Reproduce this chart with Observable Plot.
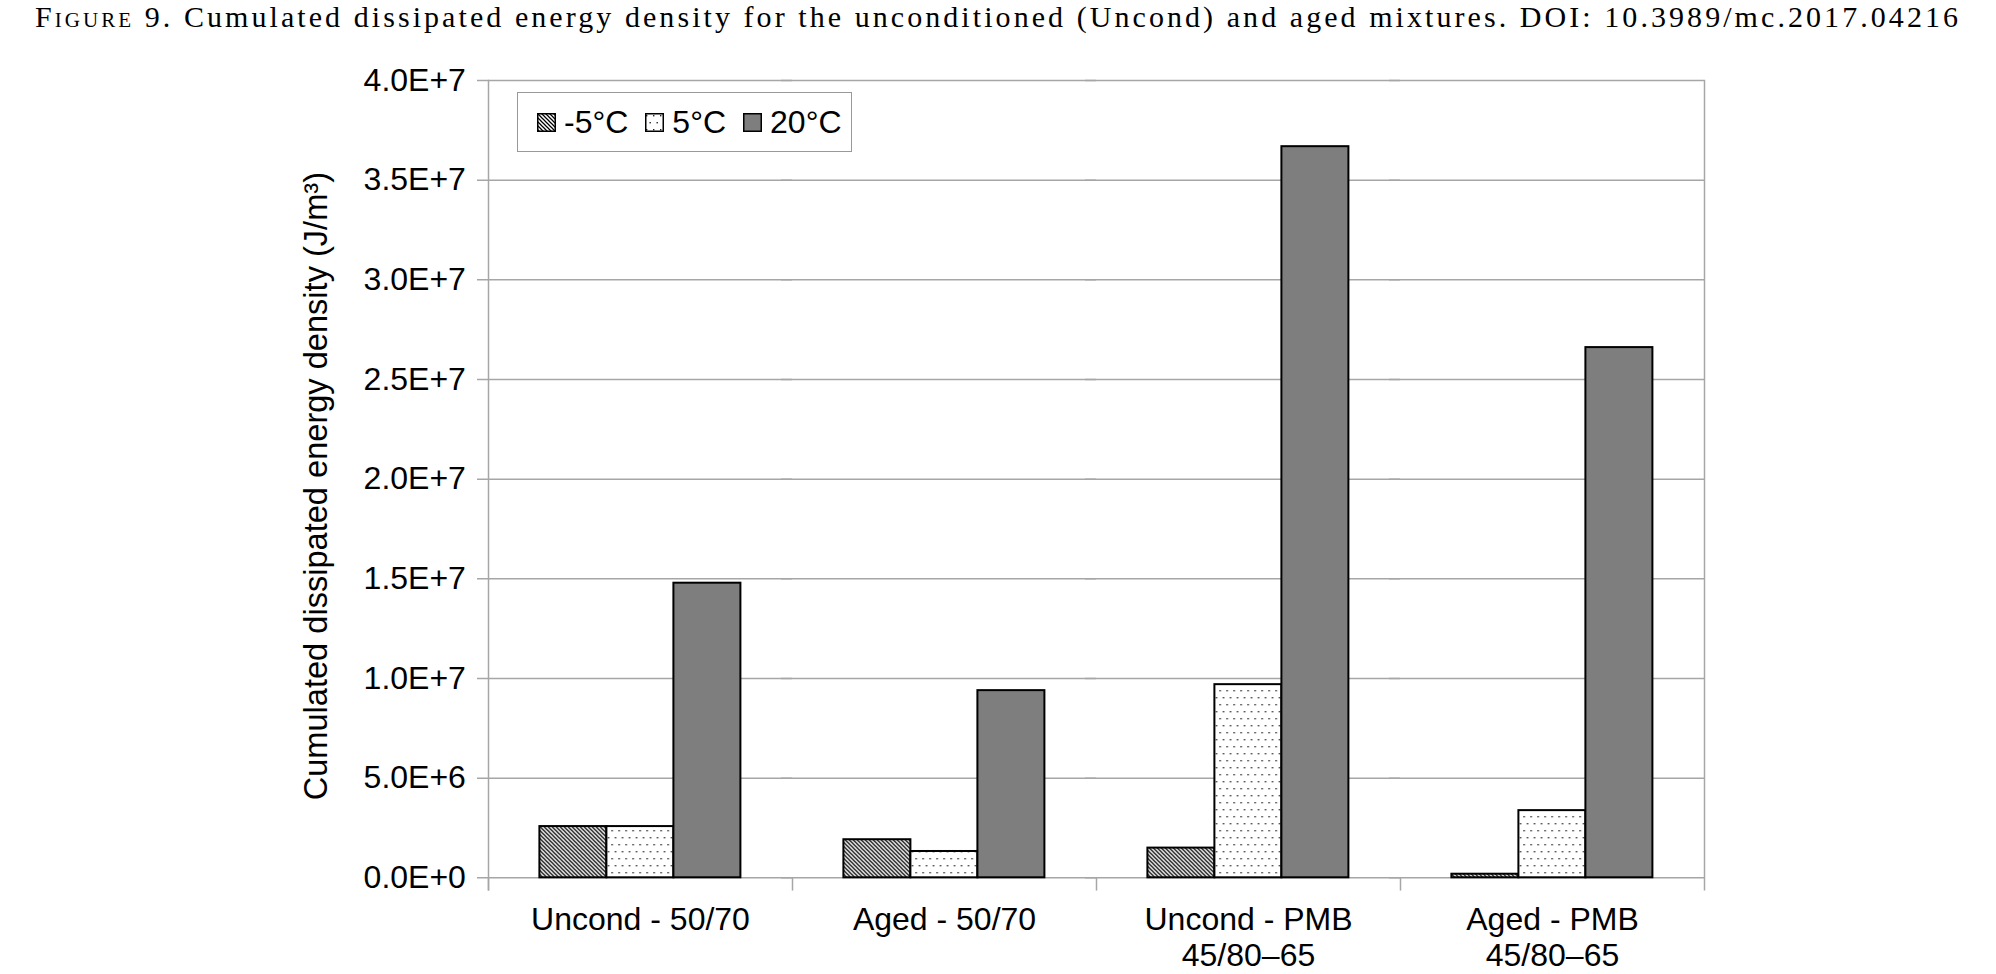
<!DOCTYPE html>
<html>
<head>
<meta charset="utf-8">
<script src="https://cdn.jsdelivr.net/npm/d3@7"></script>
<script src="https://cdn.jsdelivr.net/npm/@observablehq/plot@0.6"></script>
<style>
html, body { margin: 0; padding: 0; background: #fff; }
#wrap { position: relative; width: 1996px; height: 974px; overflow: hidden; background: #fff; }
#title { position: relative; height: 44px; font-family: "Liberation Serif", "Times New Roman", serif; font-size: 30px; line-height: 1; white-space: nowrap; color: #000; }
#title span.t { position: absolute; left: 35px; top: 2px; }
.sc { font-variant: small-caps; }
#legend { position: absolute; left: 517px; top: 92px; width: 335px; height: 60px; box-sizing: border-box; border: 1.5px solid #999; background: #fff; display: flex; align-items: center; padding-left: 19px; font-family: "Liberation Sans", Arial, sans-serif; font-size: 32px; color: #000; }
#legend .item { display: flex; align-items: center; margin-right: 17px; }
#legend svg { margin-right: 8px; display: block; }
</style>
</head>
<body>
<svg width="0" height="0" style="position:absolute">
  <defs>
    <pattern id="pNeg5" patternUnits="userSpaceOnUse" width="4" height="4">
      <rect width="4" height="4" fill="#fff"></rect>
      <path d="M-1,-1 L5,5 M-1,3 L1,5 M3,-1 L5,1" stroke="#000" stroke-width="1.25"></path>
    </pattern>
    <pattern id="p5" patternUnits="userSpaceOnUse" width="7" height="14">
      <rect width="7" height="14" fill="#fff"></rect>
      <rect x="1" y="2" width="1.4" height="1.4" fill="#222"></rect>
      <rect x="4.5" y="9" width="1.4" height="1.4" fill="#222"></rect>
    </pattern>
    <pattern id="p20" patternUnits="userSpaceOnUse" width="2" height="2">
      <rect width="2" height="2" fill="#7e7e7e"></rect>
    </pattern>
  </defs>
</svg>
<div id="wrap">
  <div id="title"><span class="t" id="titleText"><span class="sc">Figure</span> 9. Cumulated dissipated energy density for the unconditioned (Uncond) and aged mixtures. DOI: 10.3989/mc.2017.04216</span></div>
  <div id="chart"></div>
  <div id="legend"></div>
</div>
<script>
// ---- Data ----
const groups = ["Uncond - 50/70", "Aged - 50/70", "Uncond - PMB\n45/80–65", "Aged - PMB\n45/80–65"];
const series = ["-5°C", "5°C", "20°C"];
const valuesMinus5 = [2.57e6, 1.91e6, 1.49e6, 0.18e6];
const values5 = [2.57e6, 1.32e6, 9.69e6, 3.37e6];
const values20 = [14.78e6, 9.39e6, 36.68e6, 26.6e6];
const yTicks = [0, 5e6, 1e7, 1.5e7, 2e7, 2.5e7, 3e7, 3.5e7, 4e7];
const yTickLabels = ["0.0E+0", "5.0E+6", "1.0E+7", "1.5E+7", "2.0E+7", "2.5E+7", "3.0E+7", "3.5E+7", "4.0E+7"];
const yTitle = "Cumulated dissipated energy density (J/m³)";
const seriesFills = ["url(#pNeg5)", "url(#p5)", "url(#p20)"];

const seriesValues = [valuesMinus5, values5, values20];
const rows = [];
groups.forEach((g, gi) => series.forEach((s, si) => rows.push({group: g, series: s, value: seriesValues[si][gi]})));

// ---- Layout ----
const W = 1996, H = 930;
const mT = 36, mB = 96.7, mL = 486.6, mR = 291;
const plotH = H - mT - mB;
const gray = "#a6a6a6";

const chart = Plot.plot({
  width: W,
  height: H,
  marginTop: mT,
  marginBottom: mB,
  marginLeft: mL,
  marginRight: mR,
  style: {fontFamily: "'Liberation Sans', Arial, sans-serif", fontSize: "32px", background: "#fff", color: "#000", overflow: "visible"},
  fx: {domain: groups, padding: 0},
  x: {domain: series, paddingInner: 0, paddingOuter: 0.75, axis: null},
  y: {domain: [0, 4e7]},
  color: {domain: series, range: seriesFills},
  marks: [
    Plot.gridY(yTicks, {stroke: gray, strokeOpacity: 1, strokeWidth: 1.5, insetLeft: -11}),
    Plot.frame({anchor: "left", stroke: gray, strokeWidth: 1.5, insetTop: plotH, insetBottom: -12}),
    Plot.frame({anchor: "left", stroke: gray, strokeWidth: 1.5, insetBottom: -12, facetAnchor: "left"}),
    Plot.frame({anchor: "right", stroke: gray, strokeWidth: 1.5, insetBottom: -12, facetAnchor: "right"}),
    Plot.barY(rows, {fx: "group", x: "series", y: "value", fill: "series", stroke: "#000", strokeWidth: 2}),
    Plot.axisY({ticks: yTicks, tickFormat: (d) => yTickLabels[yTicks.indexOf(d)], tickSize: 0, tickPadding: 22.6, label: null, fontSize: 32}),
    Plot.axisFx({anchor: "bottom", tickSize: 0, tickPadding: 26, lineHeight: 1.14, label: null, fontSize: 32}),
    Plot.text([yTitle], {text: (d) => d, frameAnchor: "left", rotate: -90, textAnchor: "middle", lineAnchor: "middle", dx: -172, dy: 7, fontSize: 32.6, facetAnchor: "left"})
  ]
});
document.getElementById("chart").appendChild(chart);

// ---- Legend ----
const legend = document.getElementById("legend");
series.forEach((s, i) => {
  const item = document.createElement("div");
  item.className = "item";
  item.innerHTML = `<svg width="19" height="19"><rect x="0.75" y="0.75" width="17.5" height="17.5" fill="${seriesFills[i]}" stroke="#000" stroke-width="1.5"></rect></svg><span>${s}</span>`;
  legend.appendChild(item);
});

// ---- Fit title width to the reference ----
const tt = document.getElementById("titleText");
const targetW = 1923;
const w = tt.getBoundingClientRect().width;
const n = tt.textContent.length;
tt.style.letterSpacing = ((targetW - w) / (n - 1)) + "px";
</script>
</body>
</html>
